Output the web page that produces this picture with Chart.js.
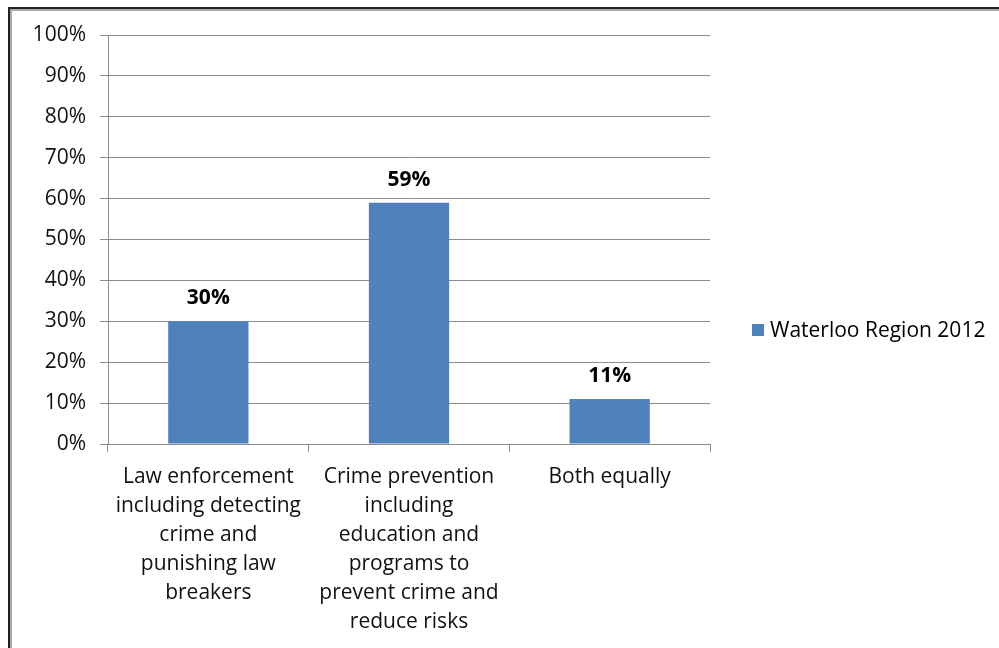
<!DOCTYPE html>
<html>
<head>
<meta charset="utf-8">
<script src="https://cdn.jsdelivr.net/npm/chart.js@4"></script>
<style>
  html, body { margin: 0; padding: 0; background: #fff; }
  .wrap { position: relative; width: 999px; height: 648px; overflow: hidden; }
  .frame {
    position: absolute; left: 8px; top: 7px; right: -10px; bottom: -10px;
    border-left: 2px solid #222; border-top: 2px solid #222;
    box-shadow: inset 2px 2px 0 #aaa;
  }
  canvas { position: absolute; left: 0; top: 0; }
</style>
</head>
<body>
<div class="wrap">
  <div class="frame"></div>
  <canvas id="chart" width="999" height="648"></canvas>
</div>
<script>
const categories = [
  ["Law enforcement", "including detecting", "crime and", "punishing law", "breakers"],
  ["Crime prevention", "including", "education and", "programs to", "prevent crime and", "reduce risks"],
  ["Both equally"],
];
const seriesName = "Waterloo Region 2012";
const values = [30, 59, 11];
const yTicks = [0, 10, 20, 30, 40, 50, 60, 70, 80, 90, 100];

const FONT = "Open Sans";
const barColor = "#4F81BD";
const gridColor = "#8c8c8c";

// value labels over each bar + legend on the right
const extras = {
  id: "extras",
  afterDatasetsDraw(chart) {
    const ctx = chart.ctx;
    const meta = chart.getDatasetMeta(0);
    ctx.save();
    ctx.fillStyle = "#000";
    ctx.font = `bold 21px "${FONT}"`;
    ctx.textAlign = "center";
    ctx.textBaseline = "middle";
    meta.data.forEach((bar, i) => {
      ctx.fillText(values[i] + "%", bar.x, bar.y - 23);
    });

    // legend
    const lx = 752, ly = 330;
    ctx.fillStyle = barColor;
    ctx.fillRect(lx, ly - 6, 12, 12);
    ctx.fillStyle = "#000";
    ctx.font = `21px "${FONT}"`;
    ctx.textAlign = "left";
    ctx.textBaseline = "middle";
    ctx.fillText(seriesName, lx + 18, ly + 1);
    ctx.restore();
  },
};

new Chart(document.getElementById("chart").getContext("2d"), {
  type: "bar",
  data: {
    labels: categories,
    datasets: [{
      label: seriesName,
      data: values,
      backgroundColor: barColor,
      barPercentage: 0.4,
      categoryPercentage: 1,
    }],
  },
  options: {
    responsive: false,
    animation: false,
    layout: { padding: { left: 0, top: 35, right: 289, bottom: 0 } },
    plugins: {
      legend: { display: false },
      tooltip: { enabled: false },
    },
    scales: {
      x: {
        offset: true,
        grid: {
          offset: true,
          drawOnChartArea: false,
          color: gridColor,
          tickLength: 8,
        },
        border: { color: gridColor },
        ticks: {
          color: "#111",
          font: { family: FONT, size: 21, lineHeight: 29 / 21 },
          padding: 11,
          maxRotation: 0,
          autoSkip: false,
        },
        afterFit: (s) => { s.height = 648 - 444; },
      },
      y: {
        min: 0,
        max: 100,
        afterBuildTicks: (s) => { s.ticks = yTicks.map((v) => ({ value: v })); },
        grid: { color: gridColor, tickLength: 8 },
        border: { color: gridColor },
        ticks: {
          color: "#111",
          font: { family: FONT, size: 21 },
          padding: 14,
          callback: (v) => v + "%",
        },
        afterFit: (s) => { s.width = 108; },
      },
    },
  },
  plugins: [extras],
});
</script>
</body>
</html>
